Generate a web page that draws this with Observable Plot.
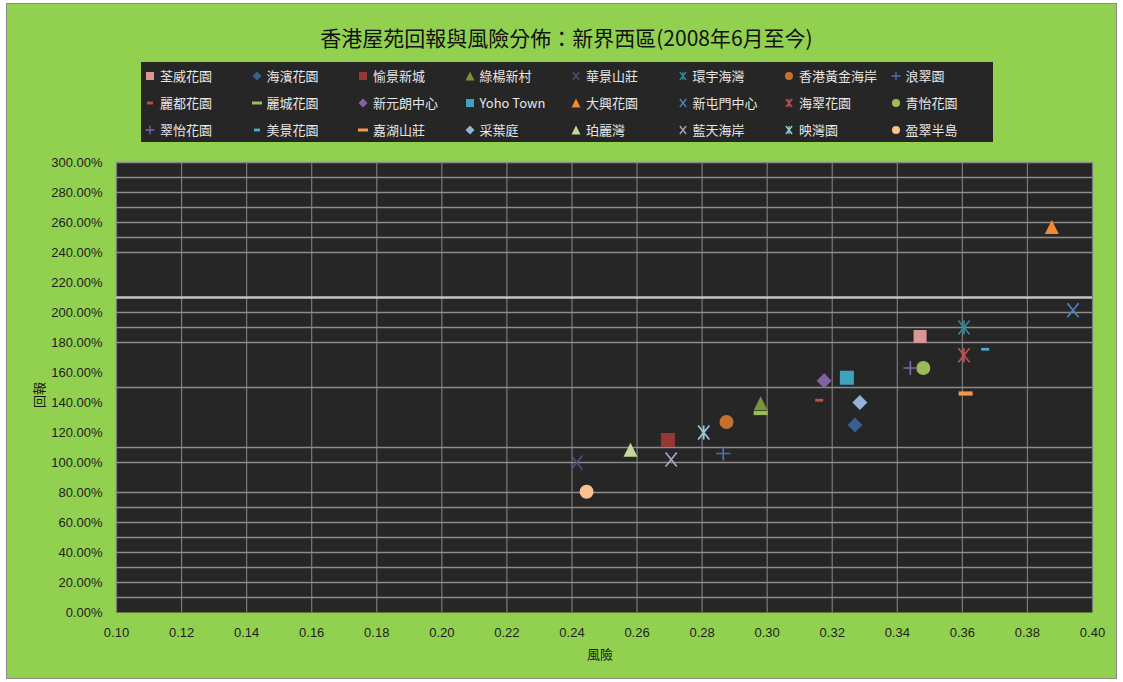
<!DOCTYPE html>
<html>
<head>
<meta charset="utf-8">
<script src="https://cdn.jsdelivr.net/npm/d3@7"></script>
<script src="https://cdn.jsdelivr.net/npm/@observablehq/plot@0.6"></script>
<style>
  body { margin: 0; background: #ffffff; }
  #chart { position: relative; width: 1123px; height: 682px; overflow: hidden; font-family: "Noto Sans CJK TC", "Noto Sans", sans-serif; }
  #panel { position: absolute; left: 6px; top: 3px; width: 1111px; height: 676px; background: #92D050; border: 1px solid #8a8a8a; box-sizing: border-box; }
  #title { position: absolute; left: 0; top: 22px; width: 1133px; text-align: center; font-size: 21px; color: #111; white-space: nowrap; }
  #legend { position: absolute; left: 141px; top: 62px; width: 852px; height: 80px; background: #262626;
            display: grid; grid-template-columns: repeat(8, 106.5px); grid-auto-rows: 27px; }
  .item { position: relative; height: 27px; }
  .item svg { position: absolute; left: 3px; top: 7.5px; }
  .item span { position: absolute; left: 19px; top: 0; line-height: 27px; font-size: 13px; color: #e6e6e6; white-space: nowrap; }
  #plot { position: absolute; left: 0; top: 150px; }
  .axlabel { position: absolute; font-size: 13px; color: #1a1a1a; white-space: nowrap; }
</style>
</head>
<body>
<div id="chart">
  <div id="panel"></div>
  <div id="title">香港屋苑回報與風險分佈：新界西區(2008年6月至今)</div>
  <div id="legend"></div>
  <div id="plot"></div>
  <div class="axlabel" style="left:587px; top:644px;">風險</div>
  <div class="axlabel" style="left:25px; top:386px; transform: rotate(-90deg); transform-origin: 13px 9px;">回報</div>
</div>
<script>
// Estates, their risk (x) and return in percent (y)
const estates = ["荃威花園","海濱花園","愉景新城","綠楊新村","華景山莊","環宇海灣","香港黃金海岸","浪翠園",
                 "麗都花園","麗城花園","新元朗中心","Yoho Town","大興花園","新屯門中心","海翠花園","青怡花園",
                 "翠怡花園","美景花園","嘉湖山莊","采葉庭","珀麗灣","藍天海岸","映灣園","盈翠半島"];
const risk = [0.347, 0.327, 0.2695, 0.298, 0.2415, 0.3605, 0.2875, 0.2865,
              0.316, 0.298, 0.3175, 0.3245, 0.3875, 0.394, 0.3605, 0.348,
              0.344, 0.367, 0.361, 0.3285, 0.258, 0.2705, 0.2805, 0.2445];
const returns = [184, 125, 115, 139.5, 100, 190, 127, 106,
                 141.5, 133, 154.5, 156.5, 257, 201.5, 171.5, 163,
                 163, 175.5, 146, 140, 108.5, 102, 120, 80.5];

// Axis ticks and grid lines
const xTicks = [0.10, 0.12, 0.14, 0.16, 0.18, 0.20, 0.22, 0.24, 0.26, 0.28, 0.30, 0.32, 0.34, 0.36, 0.38, 0.40];
const yTicks = [0, 20, 40, 60, 80, 100, 120, 140, 160, 180, 200, 220, 240, 260, 280, 300];
const yGrid = [10, 20, 30, 40, 50, 60, 70, 80, 100, 110, 150, 180, 190, 200, 240, 250, 260, 270, 280, 290, 300];
const yGridBright = [210];

// Marker styling per series
const colors = ["#D99694","#376092","#953735","#77933C","#5F497A","#31859C","#C5712E","#4573B0",
                "#C0504D","#9BBB59","#8064A2","#3FA3BE","#F08A33","#4F81BD","#C0504D","#9BBB59",
                "#8064A2","#4BACC6","#F79646","#95B3D7","#C3D69B","#B3A2C7","#93CDDD","#FAC090"];
const shapes = ["square","diamond","square","triangle","times","asterisk","circle","plus",
                "dash","dash","diamond","square","triangle","times","asterisk","circle",
                "plus","dash","dash","diamond","triangle","times","asterisk","circle"];
const radii = [6.5, 7.5, 7, 7, 7, 7, 7, 7,
               4, 7, 7.5, 7, 7, 7, 7, 7,
               7, 4, 7, 7.5, 7, 7, 7, 7];

// Custom marker shapes; h is the half-size derived from Plot's symbol size
const half = size => Math.sqrt(size / Math.PI);
const symbols = {
  square:   { draw(c, s) { const h = half(s); c.rect(-h, -h, 2 * h, 2 * h); } },
  diamond:  { draw(c, s) { const h = half(s); c.moveTo(0, -h); c.lineTo(h, 0); c.lineTo(0, h); c.lineTo(-h, 0); c.closePath(); } },
  triangle: { draw(c, s) { const h = half(s); c.moveTo(0, -h); c.lineTo(h, h); c.lineTo(-h, h); c.closePath(); } },
  circle:   { draw(c, s) { const h = half(s); c.moveTo(h, 0); c.arc(0, 0, h, 0, 2 * Math.PI); } },
  times:    { draw(c, s) { const h = half(s), w = h * 0.8; c.moveTo(-w, -h); c.lineTo(w, h); c.moveTo(w, -h); c.lineTo(-w, h); } },
  asterisk: { draw(c, s) { const h = half(s), w = h * 0.8; c.moveTo(-w, -h); c.lineTo(w, h); c.moveTo(w, -h); c.lineTo(-w, h); c.moveTo(0, -h); c.lineTo(0, h); } },
  plus:     { draw(c, s) { const h = half(s); c.moveTo(-h, 0); c.lineTo(h, 0); c.moveTo(0, -h); c.lineTo(0, h); } },
  dash:     { draw(c, s) { const h = half(s), t = Math.max(1.4, h * 0.3); c.rect(-h, -t, 2 * h, 2 * t); } }
};
const stroked = new Set(["times", "asterisk", "plus"]);

const rows = estates.map((name, i) => ({name, risk: risk[i], ret: returns[i]}));

const dotMarks = rows.map((d, i) => {
  const shape = shapes[i];
  const line = stroked.has(shape);
  return Plot.dot([d], {
    x: "risk", y: "ret",
    symbol: symbols[shape], r: radii[i],
    fill: line ? "none" : colors[i],
    stroke: line ? colors[i] : "none",
    strokeWidth: line ? 1.7 : 0
  });
});

const chart = Plot.plot({
  width: 1123, height: 532,
  marginLeft: 116, marginRight: 31, marginTop: 12, marginBottom: 70,
  style: { background: "transparent", fontFamily: "'Liberation Sans', Arial, sans-serif", fontSize: "13px", color: "#1e1e1e" },
  x: { domain: [0.10, 0.40], ticks: xTicks, tickFormat: d => d.toFixed(2), tickSize: 0, tickPadding: 15, label: null },
  y: { domain: [0, 300], ticks: yTicks, tickFormat: d => d.toFixed(2) + "%", tickSize: 0, tickPadding: 14, label: null },
  marks: [
    Plot.frame({ fill: "#262626", stroke: "none" }),
    Plot.ruleX(xTicks, { stroke: "#7a7a7a", strokeWidth: 1.2 }),
    Plot.ruleY(yGrid, { stroke: "#8c8c8c", strokeWidth: 1.3 }),
    Plot.ruleY(yGridBright, { stroke: "#c4c4c4", strokeWidth: 2.5 }),
    ...dotMarks
  ]
});
document.getElementById("plot").appendChild(chart);

// Legend: 8 columns x 3 rows
const legendRadii = {square: 4, diamond: 4.5, triangle: 4.5, circle: 4, times: 4, asterisk: 4, plus: 4.5, dash: 3.5};
const legend = d3.select("#legend");
rows.forEach((d, i) => {
  const shape = shapes[i];
  const line = stroked.has(shape);
  const lr = shape === "dash" ? (radii[i] > 5 ? 5 : 3) : legendRadii[shape];
  const item = legend.append("div").attr("class", "item");
  const svg = item.append("svg").attr("width", 12).attr("height", 12);
  svg.append("path")
    .attr("transform", "translate(6,6)")
    .attr("d", d3.symbol(symbols[shape], Math.PI * lr * lr)())
    .attr("fill", line ? "none" : colors[i])
    .attr("stroke", line ? colors[i] : "none")
    .attr("stroke-width", line ? 1.3 : 0);
  item.append("span").text(d.name);
});
</script>
</body>
</html>
